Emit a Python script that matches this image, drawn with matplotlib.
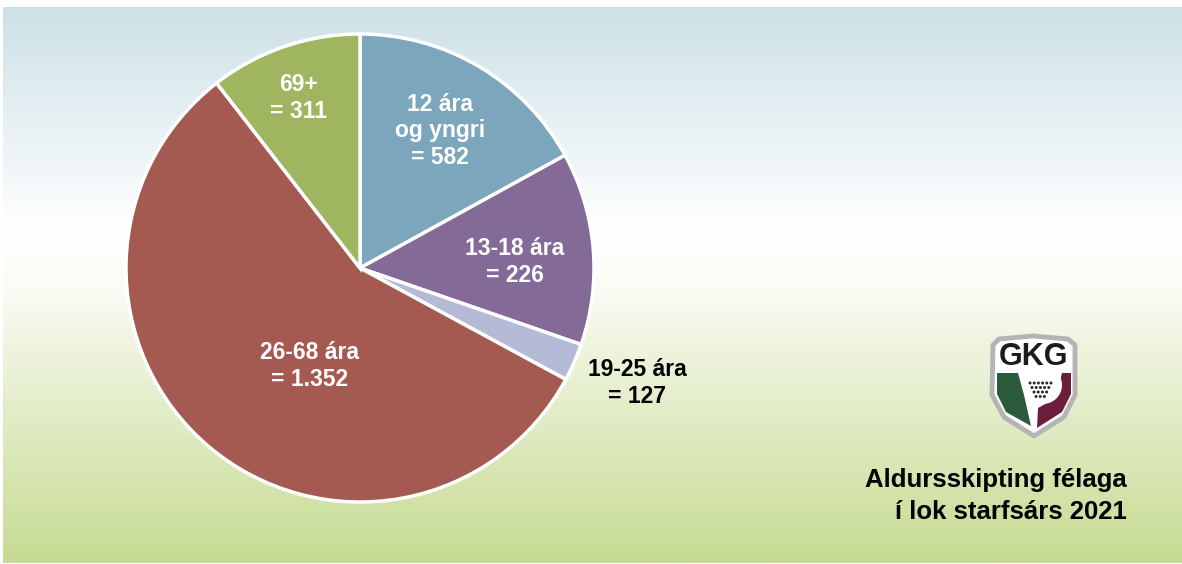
# Aldursskipting félaga GKG 2021 - kökurit
import numpy as np
import matplotlib.pyplot as plt
from matplotlib.colors import LinearSegmentedColormap
from matplotlib.patches import Polygon, Circle

plt.rcParams['font.family'] = ['Liberation Sans', 'DejaVu Sans']

# Gögn
flokkar = ['12 ára\nog yngri', '13-18 ára', '19-25 ára', '26-68 ára', '69+']
fjoldi = ['582', '226', '127', '1.352', '311']
# stærð sneiða eins og þær eru teiknaðar á myndinni (%)
sneidar = [17.0, 13.3, 2.6, 56.6, 10.5]
litir = ['#7ba6bb', '#846a97', '#b5bad7', '#a45a50', '#a0b560']
textalitir = ['white', 'white', 'black', 'white', 'white']

W, H = 1182, 564
fig = plt.figure(figsize=(W / 100, H / 100), dpi=100)
ax = fig.add_axes([0, 0, 1, 1])

# Bakgrunnur með litabreytingu (blátt -> hvítt -> grænt)
cmap = LinearSegmentedColormap.from_list('bg', [(0.0, '#c6db92'), (0.5, '#fbfcf6'),
                                                (0.6, '#ffffff'), (1.0, '#cde1e7')])
grad = np.linspace(0, 1, 300).reshape(-1, 1)
ax.imshow(grad, cmap=cmap, aspect='auto', origin='lower', extent=(3, W, 1, H - 7), zorder=0)

# Kakan
cx, cy, r = 360, H - 268, 234
wedges, _ = ax.pie(sneidar, colors=litir, startangle=90, counterclock=False,
                   center=(cx, cy), radius=r,
                   wedgeprops=dict(edgecolor='white', linewidth=2.5), frame=True)
for w in wedges:
    w.set_zorder(2)

# Merkingar (miðja texta í pixlum)
stadir = [(440, 131), (515, 262), (637, 383), (310, 366), (299, 98)]
for nafn, n, (x, y), c in zip(flokkar, fjoldi, stadir, textalitir):
    ax.text(x, H - y, nafn + '\n= ' + n, ha='center', va='center', color=c,
            fontsize=16.5, fontweight='bold', linespacing=1.2, zorder=3)

# Titill
ax.text(1127, H - 496, 'Aldursskipting félaga\ní lok starfsárs 2021', ha='right', va='center',
        fontsize=18.5, fontweight='bold', linespacing=1.38, color='black', zorder=3)

# GKG merki
def p(x, y):
    return (x, H - y)

skjoldur = [p(993, 345), p(999, 339), p(1033, 336), p(1068, 339), p(1075, 345),
            p(1075, 395), p(1064, 417), p(1034, 436), p(1004, 417), p(992, 395)]
ax.add_patch(Polygon(skjoldur, closed=True, facecolor='white', edgecolor='#b4b4b4',
                     linewidth=3.5, joinstyle='round', zorder=4))
graenn = [p(997, 373), p(1018, 373), p(1024, 395), p(1031, 426), p(1006, 412), p(997, 394)]
ax.add_patch(Polygon(graenn, closed=True, facecolor='#2c5a3c', edgecolor='none', zorder=5))
raudur = [p(1071, 373), p(1071, 394), p(1062, 412), p(1037, 428), p(1038, 408),
          p(1056, 398), p(1062, 373)]
ax.add_patch(Polygon(raudur, closed=True, facecolor='#6d1d3b', edgecolor='none', zorder=5))
ax.add_patch(Circle(p(1043, 385), 19, facecolor='white', edgecolor='none', zorder=6))
for i in range(4):
    for j in range(6 - i):
        ax.add_patch(Circle(p(1030 + j * 4.2 + i * 2, 383 + i * 4.5), 1.5, facecolor='#2a2a2a',
                            edgecolor='none', zorder=7))
ax.text(1033, H - 357, 'GKG', ha='center', va='center', fontsize=22, fontweight='bold',
        color='#1c1c1c', zorder=8)

ax.set_xlim(0, W)
ax.set_ylim(0, H)
ax.set_aspect('auto')
ax.axis('off')

plt.savefig('out.png', dpi=100)
